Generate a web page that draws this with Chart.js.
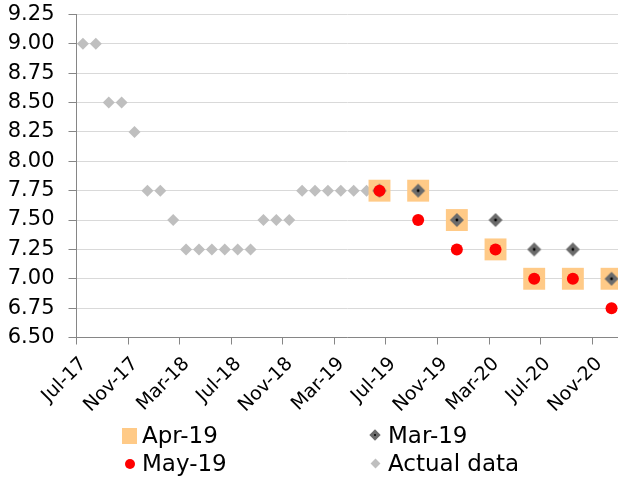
<!DOCTYPE html>
<html><head><meta charset="utf-8">
<script src="https://cdn.jsdelivr.net/npm/chart.js@4/dist/chart.umd.min.js"></script>
<style>
html,body{margin:0;padding:0;background:#fff;}
#wrap{position:relative;width:618px;height:484px;overflow:hidden;}
#c{position:absolute;left:0;top:0;}
.lg{position:absolute;font-family:"DejaVu Sans",sans-serif;font-size:23px;line-height:23px;color:#000;white-space:nowrap;}
.mk{position:absolute;}
</style></head><body>
<div id="wrap">
<canvas id="c" width="618" height="484"></canvas>
<div class="mk" style="left:122px;top:428px;width:15px;height:16px;background:#ffca87;"></div>
<div class="lg" style="left:142px;top:424px;">Apr-19</div>
<div class="mk" style="left:371px;top:431px;width:8px;height:8px;background:#6b6b6b;transform:rotate(45deg);"></div>
<div class="mk" style="left:374px;top:434px;width:2px;height:2px;background:#000;border-radius:1px;"></div>
<div class="lg" style="left:388px;top:424px;">Mar-19</div>
<div class="mk" style="left:125px;top:459px;width:10px;height:10px;background:#ff0000;border-radius:50%;"></div>
<div class="lg" style="left:142px;top:452px;">May-19</div>
<div class="mk" style="left:372px;top:460px;width:7px;height:7px;background:#bfbfbf;transform:rotate(45deg);"></div>
<div class="lg" style="left:388px;top:452px;">Actual data</div>
</div>
<script>
const xTickLabels = ['Jul-17','Nov-17','Mar-18','Jul-18','Nov-18','Mar-19','Jul-19','Nov-19','Mar-20','Jul-20','Nov-20'];
const actualMonths = ['Jul-17','Aug-17','Sep-17','Oct-17','Nov-17','Dec-17','Jan-18','Feb-18','Mar-18','Apr-18','May-18','Jun-18','Jul-18','Aug-18','Sep-18','Oct-18','Nov-18','Dec-18','Jan-19','Feb-19','Mar-19','Apr-19','May-19'];
const actualValues = [9.00,9.00,8.50,8.50,8.25,7.75,7.75,7.50,7.25,7.25,7.25,7.25,7.25,7.25,7.50,7.50,7.50,7.75,7.75,7.75,7.75,7.75,7.75];
const forecastMonths = ['Jun-19','Sep-19','Dec-19','Mar-20','Jun-20','Sep-20','Dec-20'];
const apr19Values = [7.75,7.75,7.50,7.25,7.00,7.00,7.00];
const mar19Values = [7.75,7.75,7.50,7.50,7.25,7.25,7.00];
const may19Values = [7.75,7.50,7.25,7.25,7.00,7.00,6.75];
const yTicks = {min:6.5, max:9.25, step:0.25};

const MONTHS = ['Jan','Feb','Mar','Apr','May','Jun','Jul','Aug','Sep','Oct','Nov','Dec'];
function monthIndex(s){const [m,y]=s.split('-');return (parseInt(y,10)-17)*12 + MONTHS.indexOf(m) - 6;}
function pts(months, vals){return months.map((m,i)=>({x: monthIndex(m)+0.5, y: vals[i]}));}

// custom diamond with black centre dot for Mar-19
const dia = document.createElement('canvas');
dia.width = 16; dia.height = 16;
(function(){const g=dia.getContext('2d');g.fillStyle='#6b6b6b';g.beginPath();g.moveTo(8,1);g.lineTo(15,8);g.lineTo(8,15);g.lineTo(1,8);g.closePath();g.fill();
g.fillStyle='#000';g.beginPath();g.arc(8,8,1.4,0,Math.PI*2);g.fill();})();

const xMax = monthIndex('Jan-21');
new Chart(document.getElementById('c'), {
  type: 'scatter',
  data: {
    datasets: [
      {label:'May-19', data: pts(forecastMonths, may19Values), pointStyle:'circle', pointRadius:6, backgroundColor:'#ff0000', borderWidth:0, order:1, clip:false},
      {label:'Mar-19', data: pts(forecastMonths, mar19Values), pointStyle: dia, pointRadius:8, backgroundColor:'#6b6b6b', borderWidth:0, order:2, clip:false},
      {label:'Apr-19', data: pts(forecastMonths, apr19Values), pointStyle:'rect', pointRadius:15.5, backgroundColor:'#ffca87', borderWidth:0, order:3, clip:false},
      {label:'Actual data', data: pts(actualMonths, actualValues), pointStyle:'rectRot', pointRadius:6, backgroundColor:'#bfbfbf', borderWidth:0, order:4, clip:false}
    ]
  },
  options: {
    responsive:false, animation:false, events:[],
    layout:{autoPadding:false, padding:{left:0, top:14.5, right:0, bottom:0}},
    plugins:{legend:{display:false}, tooltip:{enabled:false}},
    scales:{
      x:{type:'linear', min:0, max:xMax,
        border:{color:'#868686', width:1},
        grid:{drawOnChartArea:false, tickLength:7, tickColor:'#868686'},
        ticks:{stepSize:4, includeBounds:false, autoSkip:false, maxRotation:45, minRotation:45, padding:8.5, labelOffset:7,
          color:'#000', font:{family:'"DejaVu Sans"', size:19},
          callback:(v)=> (v%4===0 && xTickLabels[v/4]!==undefined) ? xTickLabels[v/4] : null},
        afterFit:(s)=>{s.paddingLeft=0; s.paddingRight=0; s.height=146.5;}
      },
      y:{min:yTicks.min, max:yTicks.max,
        border:{color:'#868686', width:1},
        grid:{color:'#d9d9d9', lineWidth:1, tickLength:8, tickColor:'#868686'},
        ticks:{stepSize:yTicks.step, autoSkip:false, padding:14, color:'#000', font:{family:'"DejaVu Sans"', size:21},
          callback:(v)=>v.toFixed(2)},
        afterFit:(s)=>{s.width=76.5; s.paddingTop=0; s.paddingBottom=0;}
      }
    }
  }
});
</script>
</body></html>
